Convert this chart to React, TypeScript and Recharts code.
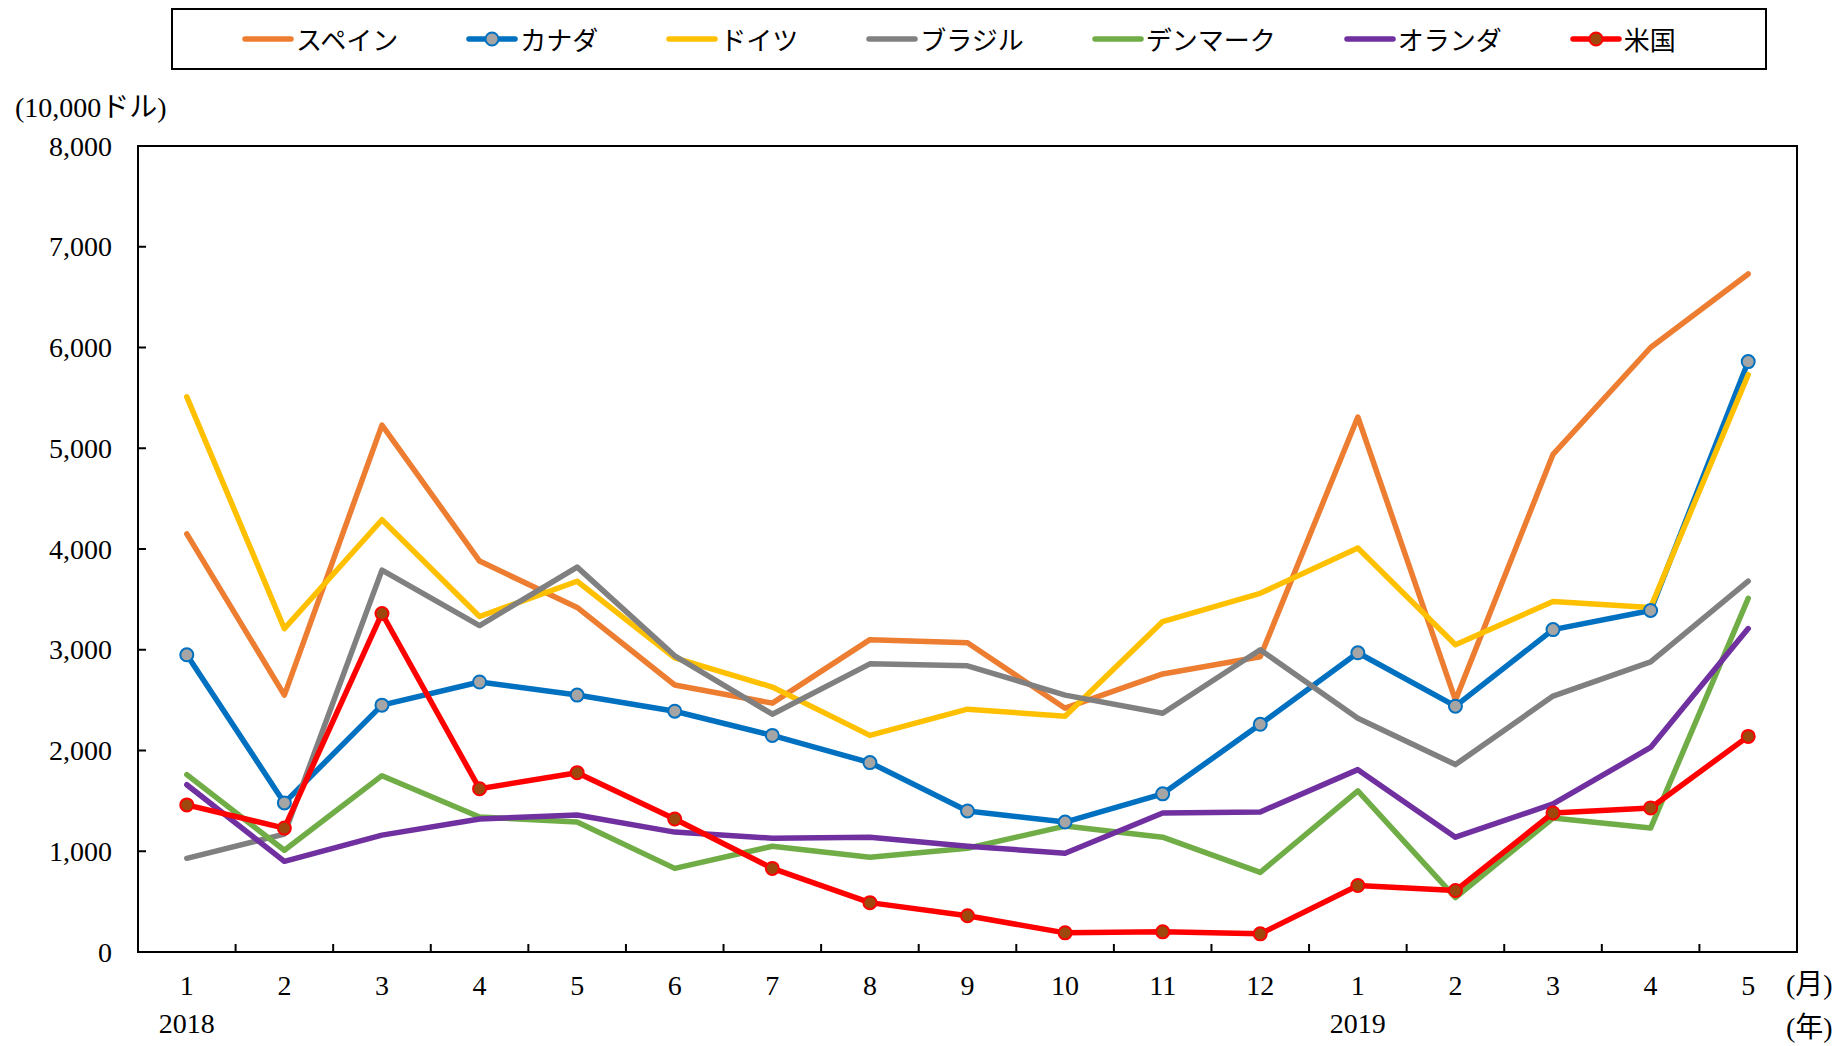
import { LineChart, Line, XAxis, YAxis } from 'recharts';

// 2018-1 .. 2019-5, values in 10,000 USD
const months = ['1', '2', '3', '4', '5', '6', '7', '8', '9', '10', '11', '12', '1', '2', '3', '4', '5'];
const years = ['2018', '', '', '', '', '', '', '', '', '', '', '', '2019', '', '', '', ''];
const yTicks = [0, 1000, 2000, 3000, 4000, 5000, 6000, 7000, 8000];

const spain = [4150, 2550, 5230, 3880, 3420, 2650, 2470, 3100, 3070, 2420, 2760, 2930, 5310, 2500, 4940, 6000, 6730];
const canada = [2950, 1480, 2450, 2680, 2550, 2390, 2150, 1880, 1400, 1290, 1570, 2260, 2970, 2440, 3200, 3390, 5860];
const germany = [5510, 3210, 4290, 3330, 3680, 2920, 2630, 2150, 2410, 2340, 3280, 3560, 4010, 3050, 3480, 3420, 5730];
const brazil = [930, 1170, 3790, 3240, 3820, 2940, 2360, 2860, 2840, 2550, 2370, 3000, 2320, 1860, 2540, 2880, 3680];
const denmark = [1760, 1010, 1750, 1340, 1290, 830, 1050, 940, 1030, 1250, 1140, 790, 1600, 540, 1330, 1230, 3510];
const netherlands = [1660, 900, 1160, 1320, 1360, 1190, 1130, 1140, 1050, 980, 1380, 1390, 1810, 1140, 1470, 2030, 3210];
const usa = [1460, 1230, 3360, 1620, 1780, 1320, 830, 490, 360, 190, 200, 180, 660, 610, 1380, 1430, 2140];

const series = [
  { key: 'spain', name: 'スペイン', values: spain, color: '#ED7D31', dotFill: '' },
  { key: 'canada', name: 'カナダ', values: canada, color: '#0070C0', dotFill: '#A5A5A5' },
  { key: 'germany', name: 'ドイツ', values: germany, color: '#FFC000', dotFill: '' },
  { key: 'brazil', name: 'ブラジル', values: brazil, color: '#808080', dotFill: '' },
  { key: 'denmark', name: 'デンマーク', values: denmark, color: '#70AD47', dotFill: '' },
  { key: 'netherlands', name: 'オランダ', values: netherlands, color: '#7030A0', dotFill: '' },
  { key: 'usa', name: '米国', values: usa, color: '#FF0000', dotFill: '#9E480E' },
];

const data = months.map((m, i) => {
  const row: Record<string, string | number> = { key: `${i}` };
  series.forEach((s) => {
    row[s.key] = s.values[i];
  });
  return row;
});

const W = 1848;
const H = 1046;
const PLOT_LEFT = 138;
const PLOT_TOP = 146;
const PLOT_RIGHT = 1797;
const PLOT_BOTTOM = 952;
const PLOT_W = PLOT_RIGHT - PLOT_LEFT;

const NUM_FONT = "'Liberation Serif', 'Noto Sans CJK JP', serif";
const JP_FONT = "'Noto Sans CJK JP', sans-serif";

// eslint-disable-next-line @typescript-eslint/no-explicit-any
function MonthTick(props: any) {
  const { x, y, index } = props;
  const bw = PLOT_W / months.length;
  return (
    <g>
      {index < months.length - 1 && (
        <line x1={x + bw / 2} x2={x + bw / 2} y1={y} y2={y - 8} stroke="#000" strokeWidth={2} />
      )}
      <text x={x} y={y + 33} textAnchor="middle" dominantBaseline="central" fontSize={28} fontFamily={NUM_FONT} fill="#000">
        {months[index]}
      </text>
      {years[index] && (
        <text x={x} y={y + 71} textAnchor="middle" dominantBaseline="central" fontSize={28} fontFamily={NUM_FONT} fill="#000">
          {years[index]}
        </text>
      )}
    </g>
  );
}

// eslint-disable-next-line @typescript-eslint/no-explicit-any
function ValueTick(props: any) {
  const { x, y, payload } = props;
  const ax = x + 26;
  const v = payload.value as number;
  return (
    <g>
      {v > 0 && v < 8000 && <line x1={ax} x2={ax + 8} y1={y} y2={y} stroke="#000" strokeWidth={2} />}
      <text x={x} y={y} textAnchor="end" dominantBaseline="central" fontSize={28} fontFamily={NUM_FONT} fill="#000">
        {v.toLocaleString('en-US')}
      </text>
    </g>
  );
}

function LegendBox() {
  return (
    <div
      style={{
        position: 'absolute',
        left: 171,
        top: 8,
        width: 1596,
        height: 62,
        border: '2px solid #000',
        boxSizing: 'border-box',
        display: 'flex',
        alignItems: 'center',
        paddingLeft: 69,
        gap: 68,
        background: '#fff',
      }}
    >
      {series.map((s) => (
        <div key={s.key} style={{ display: 'flex', alignItems: 'center' }}>
          <svg width={52} height={18} style={{ display: 'block' }}>
            <line x1={3} x2={49} y1={9} y2={9} stroke={s.color} strokeWidth={5.5} strokeLinecap="round" />
            {s.dotFill && <circle cx={26} cy={9} r={6.5} fill={s.dotFill} stroke={s.color} strokeWidth={2} />}
          </svg>
          <span style={{ marginLeft: 2, fontSize: 26, fontFamily: JP_FONT, lineHeight: '30px', color: '#000' }}>
            {s.name}
          </span>
        </div>
      ))}
    </div>
  );
}

const labelStyle = {
  position: 'absolute' as const,
  fontSize: 28,
  lineHeight: '32px',
  fontFamily: NUM_FONT,
  color: '#000',
  whiteSpace: 'nowrap' as const,
};

export default function App() {
  return (
    <div style={{ position: 'absolute', left: 0, top: 0, width: W, height: H, background: '#fff' }}>
      <LegendBox />
      <div style={{ ...labelStyle, left: 15, top: 92 }}>(10,000ドル)</div>
      <div style={{ ...labelStyle, left: 1786, top: 969 }}>(月)</div>
      <div style={{ ...labelStyle, left: 1786, top: 1012 }}>(年)</div>
      <div style={{ position: 'absolute', left: 0, top: 0 }}>
        <LineChart
          width={W}
          height={H}
          data={data}
          margin={{ top: PLOT_TOP, right: W - PLOT_RIGHT, bottom: H - PLOT_BOTTOM - 60, left: PLOT_LEFT - 100 }}
        >
          <XAxis
            dataKey="key"
            scale="band"
            interval={0}
            height={60}
            tickSize={0}
            tickMargin={0}
            tickLine={false}
            axisLine={{ stroke: '#000', strokeWidth: 2 }}
            tick={<MonthTick />}
          />
          <YAxis
            domain={[0, 8000]}
            ticks={yTicks}
            interval={0}
            width={100}
            tickSize={0}
            tickMargin={26}
            tickLine={false}
            axisLine={{ stroke: '#000', strokeWidth: 2 }}
            tick={<ValueTick />}
          />
          {series.map((s) => (
            <Line
              key={s.key}
              dataKey={s.key}
              name={s.name}
              stroke={s.color}
              strokeWidth={5.5}
              strokeLinecap="round"
              strokeLinejoin="round"
              dot={s.dotFill ? { r: 6.5, fill: s.dotFill, stroke: s.color, strokeWidth: 2 } : false}
              activeDot={false}
              isAnimationActive={false}
            />
          ))}
        </LineChart>
      </div>
      <div
        style={{
          position: 'absolute',
          left: PLOT_LEFT - 1,
          top: PLOT_TOP - 1,
          width: PLOT_W + 2,
          height: PLOT_BOTTOM - PLOT_TOP + 2,
          border: '2px solid #000',
          boxSizing: 'border-box',
          pointerEvents: 'none',
        }}
      />
    </div>
  );
}
